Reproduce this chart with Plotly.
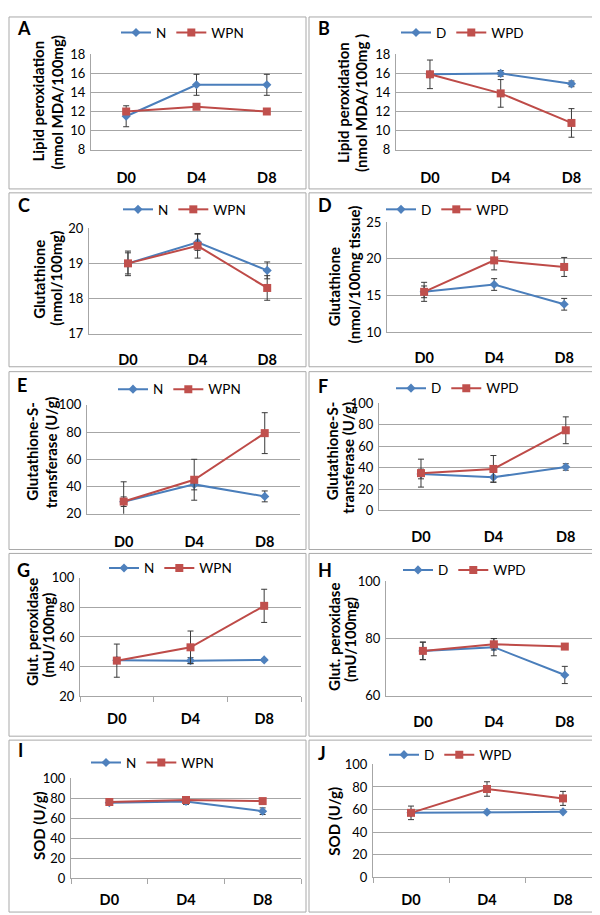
import plotly.graph_objects as go

days = ["D0", "D4", "D8"]

# ---- data ----
a_n = [11.5, 14.8, 14.8];   a_n_err = [1.1, 1.1, 1.1]
a_wpn = [12.0, 12.5, 12.0]; a_wpn_err = [0, 0, 0]

b_d = [15.9, 16.0, 14.9];   b_d_err = [0.3, 0.3, 0.3]
b_wpd = [15.9, 13.9, 10.8]; b_wpd_err = [1.5, 1.45, 1.5]

c_n = [19.0, 19.6, 18.8];   c_n_err = [0.3, 0.23, 0.24]
c_wpn = [19.0, 19.5, 18.3]; c_wpn_err = [0.35, 0.35, 0.35]

d_d = [15.5, 16.5, 13.8];   d_d_err = [0.8, 0.8, 0.8]
d_wpd = [15.5, 19.8, 18.9]; d_wpd_err = [1.3, 1.3, 1.3]

e_n = [28.9, 41.6, 32.8];   e_n_err = [3.5, 4.0, 4.0]
e_wpn = [29.0, 45.0, 79.2]; e_wpn_err = [14.5, 15.0, 15.0]

f_d = [34.0, 31.0, 40.5];   f_d_err = [4.5, 4.5, 3.0]
f_wpd = [34.8, 38.7, 74.7]; f_wpd_err = [13.0, 12.5, 12.5]

g_n = [44.2, 44.0, 44.5];   g_n_err = [2.0, 2.0, 0.5]
g_wpn = [44.0, 53.0, 81.0]; g_wpn_err = [11.2, 11.0, 11.2]

h_d = [75.6, 76.9, 67.2];   h_d_err = [3.1, 3.0, 3.0]
h_wpd = [75.6, 77.9, 77.1]; h_wpd_err = [3.0, 2.0, 0.5]

i_n = [75.5, 76.8, 67.0];   i_n_err = [2.5, 3.0, 3.3]
i_wpn = [76.2, 78.2, 77.1]; i_wpn_err = [1.0, 1.0, 1.0]

j_d = [57.1, 57.7, 58.0];   j_d_err = [0.5, 0.5, 0.5]
j_wpd = [57.1, 78.2, 69.9]; j_wpd_err = [6.0, 6.4, 6.2]

panel_letters = ["A", "B", "C", "D", "E", "F", "G", "H", "I", "J"]
ctrl_names = ["N", "D", "N", "D", "N", "D", "N", "D", "N", "D"]
trt_names = ["WPN", "WPD", "WPN", "WPD", "WPN", "WPD", "WPN", "WPD", "WPN", "WPD"]
ctrl_vals = [a_n, b_d, c_n, d_d, e_n, f_d, g_n, h_d, i_n, j_d]
ctrl_errs = [a_n_err, b_d_err, c_n_err, d_d_err, e_n_err, f_d_err, g_n_err, h_d_err, i_n_err, j_d_err]
trt_vals = [a_wpn, b_wpd, c_wpn, d_wpd, e_wpn, f_wpd, g_wpn, h_wpd, i_wpn, j_wpd]
trt_errs = [a_wpn_err, b_wpd_err, c_wpn_err, d_wpd_err, e_wpn_err, f_wpd_err, g_wpn_err, h_wpd_err, i_wpn_err, j_wpd_err]
y_ranges = [(8, 18), (8, 18), (17, 20), (10, 25), (20, 100), (0, 100), (20, 100), (60, 100), (0, 100), (0, 100)]
y_dticks = [2, 2, 1, 5, 20, 20, 20, 20, 20, 20]
y_titles = [
    ["Lipid peroxidation", "(nmol MDA/100mg)"],
    ["Lipid peroxidation", "(nmol MDA/100mg )"],
    ["Glutathione", "(nmol/100mg)"],
    ["Glutathione", "(nmol/100mg tissue)"],
    ["Glutathione-S-", "transferase (U/g)"],
    ["Glutathione-S-", "transferase (U/g)"],
    ["Glut. peroxidase", "(mU/100mg)"],
    ["Glut. peroxidase", "(mU/100mg)"],
    ["SOD (U/g)"],
    ["SOD (U/g)"],
]

# ---- layout geometry (pixels) ----
W, H = 600, 915
# plot area: x0, x1, ytop, ybottom
plot_boxes = [
    (83, 294, 39, 136), (388, 596, 39, 136),
    (81, 294, 216, 323.3), (379, 594, 210, 321.7),
    (79, 292, 395.7, 506.7), (371, 594, 394, 503.3),
    (72, 293, 571.7, 692.3), (378, 593, 575, 691.7),
    (63, 293, 775.7, 877.7), (365, 593, 761.7, 876.7),
]
x_ranges = [(-0.50, 2.50), (-0.48, 2.46), (-0.56, 2.50), (-0.53, 2.54), (-0.52, 2.50),
            (-0.58, 2.50), (-0.50, 2.50), (-0.52, 2.51), (-0.50, 2.50), (-0.50, 2.50)]
panel_rects = [
    (1, 1, 298, 176), (301, 1, 598, 176),
    (1, 180, 298, 357), (301, 180, 598, 357),
    (1, 362, 298, 543), (301, 362, 598, 543),
    (1, 547, 298, 733), (301, 547, 598, 733),
    (1, 737, 298, 912), (301, 737, 598, 912),
]
letter_pos = [(7, 12.5), (308, 12.5), (8, 192.5), (308, 192.5), (7, 376), (308, 377),
              (7, 563.5), (308, 563.5), (8, 747.5), (308, 750)]
title_pos = [
    [(30, 87), (49, 88)], [(335, 88.5), (353, 88.5)],
    [(31, 268.5), (48, 267.5)], [(326, 276), (345.5, 263.5)],
    [(24, 443.5), (43, 444)], [(323.5, 442.5), (340.5, 450)],
    [(23.5, 627.5), (39.5, 630)], [(326, 632), (342, 634)],
    [(30.5, 824)], [(326, 820)],
]
legend_pos = [(120, 17), (400, 17), (122, 197), (385, 197), (117, 380), (395, 379),
              (108, 562), (402, 564), (90, 760), (388, 752)]
xlabel_standoff = [15, 15, 13, 13, 15, 13, 9, 13, 8, 9]
has_xticks = [False, False, False, False, False, False, True, False, True, True]

BLUE_LINE = "#4A7EBB"
BLUE = "#4F81BD"
RED_LINE = "#BE4B48"
RED = "#C0504D"
GRID = "#A6A6A6"
FONT = "Lato"

fig = go.Figure()
layout = dict(
    width=W, height=H, margin=dict(l=0, r=0, t=0, b=0),
    paper_bgcolor="white", plot_bgcolor="white",
    font=dict(family=FONT, color="#000000"),
    showlegend=True,
)
shapes = []
annotations = []

for k in range(10):
    n = k + 1
    sfx = "" if n == 1 else str(n)
    lg = "legend" if n == 1 else f"legend{n}"
    x0, x1, yt, yb = plot_boxes[k]

    for name, vals, errs, lc, mc, sym, size in [
        (ctrl_names[k], ctrl_vals[k], ctrl_errs[k], BLUE_LINE, BLUE, "diamond", 7),
        (trt_names[k], trt_vals[k], trt_errs[k], RED_LINE, RED, "square", 8),
    ]:
        fig.add_trace(go.Scatter(
            x=days, y=vals, name=name, mode="lines+markers",
            line=dict(color=lc, width=2),
            marker=dict(symbol=sym, size=size, color=mc),
            error_y=dict(type="data", array=errs, visible=True,
                         color="#3A3A3A", thickness=1, width=3),
            xaxis=f"x{sfx}", yaxis=f"y{sfx}", legend=lg,
            cliponaxis=False,
        ))

    xa = dict(
        domain=[x0 / W, x1 / W], anchor=f"y{sfx}", type="category",
        range=list(x_ranges[k]), showgrid=False, showline=True, linecolor=GRID,
        linewidth=1, zeroline=False,
        tickfont=dict(family=FONT, size=14.5, color="#000000", weight="bold"),
        ticklabelstandoff=xlabel_standoff[k], fixedrange=True,
    )
    if has_xticks[k]:
        xa.update(ticks="outside", tickson="boundaries", ticklen=5,
                  tickcolor=GRID, tickwidth=1)
    else:
        xa.update(ticks="")
    ymin, ymax = y_ranges[k]
    ya = dict(
        domain=[1 - yb / H, 1 - yt / H], anchor=f"x{sfx}",
        range=[ymin, ymax], dtick=y_dticks[k], tick0=0,
        showgrid=True, gridcolor=GRID, gridwidth=1, zeroline=False,
        showline=True, linecolor=GRID, linewidth=1, ticks="",
        tickfont=dict(family=FONT, size=13, color="#000000"),
        ticklabelstandoff=2, fixedrange=True,
    )
    layout[f"xaxis{sfx}"] = xa
    layout[f"yaxis{sfx}"] = ya

    lx, ly = legend_pos[k]
    layout[lg] = dict(
        orientation="h", x=(lx - 12) / W, y=1 - ly / H,
        xanchor="left", yanchor="middle",
        font=dict(family=FONT, size=13.5, color="#000000"),
        bgcolor="rgba(0,0,0,0)", borderwidth=0, itemwidth=30,
        tracegroupgap=0,
    )

    r = panel_rects[k]
    shapes.append(dict(type="rect", xref="paper", yref="paper",
                       x0=r[0] / W, x1=r[2] / W, y0=1 - r[3] / H, y1=1 - r[1] / H,
                       line=dict(color="#A9A9A9", width=1), layer="below"))

    px_, py_ = letter_pos[k]
    annotations.append(dict(
        text=panel_letters[k], x=px_ / W, y=1 - py_ / H, xref="paper", yref="paper",
        xanchor="left", yanchor="middle", showarrow=False,
        font=dict(family=FONT, size=18, color="#000000", weight="bold"),
    ))
    for line_text, (tx, ty) in zip(y_titles[k], title_pos[k]):
        annotations.append(dict(
            text=line_text, x=tx / W, y=1 - ty / H, xref="paper", yref="paper",
            xanchor="center", yanchor="middle", textangle=-90, showarrow=False,
            font=dict(family=FONT, size=15, color="#000000", weight="bold"),
        ))

layout["shapes"] = shapes
layout["annotations"] = annotations
fig.update_layout(**layout)
fig.write_html("out.html")
